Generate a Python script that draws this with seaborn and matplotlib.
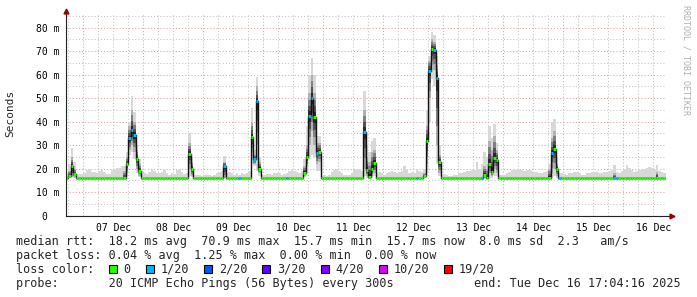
import numpy as np
import pandas as pd
import matplotlib
matplotlib.use("Agg")
import matplotlib.pyplot as plt
import matplotlib.dates as mdates
from matplotlib.ticker import MultipleLocator, NullFormatter, FuncFormatter
from matplotlib.patches import Rectangle
import seaborn as sns

# ---------------- data (hourly consolidated values, start 2025-12-06 17:00) ----------------
START = "2025-12-06 17:00"
VIEW_START = "2025-12-06 17:04:16"
VIEW_END = "2025-12-16 17:04:16"

median_ms = [
    16, 17, 21, 17.7, 16, 16, 16, 16, 16, 16, 16, 16, 16, 16, 16, 16, 16, 16, 16, 16, 16, 16, 16, 16,
    22, 33, 36.6, 34.3, 24.3, 19, 16, 16, 16, 16, 16, 16, 16, 16, 16, 16, 16, 16, 16, 16, 16, 16, 16, 16,
    16, 26.4, 20, 16, 16, 16, 16, 16, 16, 16, 16, 16, 16, 16, 16, 21, 16, 16, 16, 16, 16, 16, 16, 16,
    16, 16, 33.6, 24, 48.7, 20, 16, 16, 16, 16, 16, 16, 16, 16, 16, 16, 16, 16, 16, 16, 16, 16, 16, 18.3,
    24.8, 42.6, 50.2, 42, 26.8, 27.2, 16, 16, 16, 16, 16, 16, 16, 16, 16, 16, 16, 16, 16, 16, 16, 16, 16, 35.7,
    19.4, 16.6, 20, 22.6, 16, 16, 16, 16, 16, 16, 16, 16, 16, 16, 16, 16, 16, 16, 16, 16, 16, 16, 16, 17,
    31.9, 61.6, 70.9, 70.5, 58.7, 22.7, 16, 16, 16, 16, 16, 16, 16, 16, 16, 16, 16, 16, 16, 16, 16, 16, 16, 17.3,
    16.2, 21.9, 18.7, 24.7, 23.7, 16, 16, 16, 16, 16, 16, 16, 16, 16, 16, 16, 16, 16, 16, 16, 16, 16, 16, 16,
    16, 16, 26.5, 28.4, 19.9, 16, 16, 16, 16, 16, 16, 16, 16, 16, 16, 16, 16, 16, 16, 16, 16, 16, 16, 16,
    16, 16, 16, 16, 16, 16, 16, 16, 16, 16, 16, 16, 16, 16, 16, 16, 16, 16, 16, 16, 16, 16, 16, 16,
]

# lost pings (out of 20) per hour -> colour of the median mark
loss_pings = [
    0, 0, 0, 0, 0, 0, 0, 0, 0, 0, 0, 0, 0, 0, 0, 0, 0, 0, 0, 0, 0, 0, 0, 0,
    0, 1, 1, 1, 0, 0, 0, 0, 0, 0, 0, 0, 0, 0, 0, 0, 0, 0, 0, 0, 0, 0, 0, 0,
    0, 0, 0, 0, 0, 0, 0, 0, 0, 0, 0, 0, 0, 0, 0, 1, 0, 0, 0, 0, 0, 1, 0, 0,
    0, 0, 0, 1, 1, 0, 0, 0, 0, 0, 0, 0, 0, 0, 0, 0, 1, 0, 0, 0, 0, 0, 0, 0,
    0, 1, 1, 0, 1, 0, 0, 0, 0, 0, 0, 0, 0, 0, 0, 0, 0, 0, 0, 0, 0, 0, 0, 1,
    0, 0, 0, 0, 0, 0, 0, 0, 0, 0, 0, 0, 0, 0, 0, 0, 0, 0, 0, 0, 1, 0, 0, 0,
    0, 1, 0, 1, 1, 0, 0, 0, 0, 0, 0, 0, 0, 0, 0, 0, 0, 0, 0, 0, 0, 0, 1, 0,
    0, 0, 0, 0, 0, 0, 0, 0, 0, 0, 0, 0, 0, 0, 0, 0, 0, 0, 0, 0, 0, 0, 0, 0,
    0, 0, 1, 0, 0, 1, 0, 0, 0, 0, 0, 0, 0, 0, 0, 0, 0, 0, 0, 0, 0, 0, 0, 0,
    0, 0, 0, 1, 1, 0, 0, 0, 0, 0, 0, 0, 0, 0, 0, 0, 0, 0, 0, 0, 0, 0, 0, 0,
]

# slowest ping of each hour (top of the light smoke)
ping_max = [
    18, 22, 29, 23, 17.5, 17.8, 17.8, 18, 19.5, 19.8, 18.5, 18.5, 18, 19, 19.3, 18.5, 17.8, 17.8, 19.5, 20, 20.3, 20.5, 21, 21,
    27, 40, 51, 44, 30, 24, 19, 18, 17.8, 18.5, 20, 19, 18, 18.3, 18.5, 19.3, 18, 17.5, 18, 17.8, 19.3, 19.8, 18.5, 17.8,
    18, 35, 25, 17.5, 17.5, 17.3, 17, 17.5, 17.5, 17.3, 17, 17.5, 18, 18.5, 19, 25.4, 18, 18.5, 18, 17.5, 18, 17.5, 18, 17.8,
    18, 19, 46, 28, 59, 25, 17.5, 17.5, 17.8, 17.8, 17.5, 18, 18.3, 18, 17.5, 17.8, 18, 19, 19.3, 19, 18.5, 18, 19, 24,
    38, 60, 67, 60, 34, 34, 17, 17.3, 17, 17.5, 18.5, 19.5, 19.8, 19, 18, 17.5, 17.5, 17.3, 18, 19.5, 19.8, 19.8, 19, 53,
    30, 27, 32, 33, 18, 18.5, 18, 17.5, 18, 18.5, 19, 18.5, 18, 18.5, 19, 21, 20, 18, 18.5, 18, 19.5, 19, 18.5, 20,
    45, 68, 78, 77, 68, 30, 17.5, 17.8, 17.5, 17, 17, 17.3, 17.5, 18, 18.3, 18.5, 19, 19, 19.5, 19.5, 23, 20, 22, 27,
    25, 38, 33, 39, 31, 17.5, 17.5, 17.5, 18, 18.5, 19.3, 19.3, 19.5, 19.5, 19.5, 19, 19.3, 19.3, 19, 18.5, 18.5, 18, 18, 18.5,
    19, 22, 40, 41, 25, 18, 18, 17.8, 17.5, 18, 18.3, 18.5, 18.5, 18, 17.5, 17.5, 18, 18.3, 18.5, 18.8, 18.5, 18, 18.3, 18.5,
    18.8, 19, 19.5, 21.5, 18.5, 18, 19, 20, 21.5, 20.5, 19.5, 18.5, 19, 19.5, 20, 20, 20.5, 20.7, 20.5, 19.5, 21.5, 19, 18.5, 18,
]

# fastest ping of each hour (bottom of the light smoke)
ping_min = [
    15.7, 16, 16.5, 16, 15.7, 15.7, 15.7, 15.7, 15.7, 15.7, 15.7, 15.7, 15.7, 15.7, 15.7, 15.7, 15.7, 15.7, 15.7, 15.7, 15.7, 15.7, 15.7, 15.7,
    17, 26, 27, 24, 18, 16.5, 15.7, 15.7, 15.7, 15.7, 15.7, 15.7, 15.7, 15.7, 15.7, 15.7, 15.7, 15.7, 15.7, 15.7, 15.7, 15.7, 15.7, 15.7,
    15.7, 17, 16.5, 15.7, 15.7, 15.7, 15.7, 15.7, 15.7, 15.7, 15.7, 15.7, 15.7, 15.7, 15.7, 16, 15.7, 15.7, 15.7, 15.7, 15.7, 15.7, 15.7, 15.7,
    15.7, 15.7, 22, 21, 19, 17, 15.7, 15.7, 15.7, 15.7, 15.7, 15.7, 15.7, 15.7, 15.7, 15.7, 15.7, 15.7, 15.7, 15.7, 15.7, 15.7, 15.7, 16.5,
    18, 24, 26, 25, 19, 19, 15.7, 15.7, 15.7, 15.7, 15.7, 15.7, 15.7, 15.7, 15.7, 15.7, 15.7, 15.7, 15.7, 15.7, 15.7, 15.7, 15.7, 17,
    16, 16, 16.5, 17, 15.7, 15.7, 15.7, 15.7, 15.7, 15.7, 15.7, 15.7, 15.7, 15.7, 15.7, 15.7, 15.7, 15.7, 15.7, 15.7, 15.7, 15.7, 15.7, 16,
    18, 40, 58, 55, 22, 17, 15.7, 15.7, 15.7, 15.7, 15.7, 15.7, 15.7, 15.7, 15.7, 15.7, 15.7, 15.7, 15.7, 15.7, 15.7, 15.7, 15.7, 16,
    16, 16, 16, 17, 17, 15.7, 15.7, 15.7, 15.7, 15.7, 15.7, 15.7, 15.7, 15.7, 15.7, 15.7, 15.7, 15.7, 15.7, 15.7, 15.7, 15.7, 15.7, 15.7,
    15.7, 15.7, 16, 17, 16, 15.7, 15.7, 15.7, 15.7, 15.7, 15.7, 15.7, 15.7, 15.7, 15.7, 15.7, 15.7, 15.7, 15.7, 15.7, 15.7, 15.7, 15.7, 15.7,
    15.7, 15.7, 15.7, 15.7, 15.7, 15.7, 15.7, 15.7, 15.7, 15.7, 15.7, 15.7, 15.7, 15.7, 15.7, 15.7, 15.7, 15.7, 15.7, 15.7, 15.7, 15.7, 15.7, 15.7,
]

# extent of the dense (dark) part of the smoke
core_hi = [
    16, 19, 25, 20, 16, 16, 16, 16, 16, 16, 16, 16, 16, 16, 16, 16, 16, 16, 16, 16, 16, 16, 16, 19,
    25, 38, 45, 40, 28, 22, 16, 16, 16, 16, 16, 16, 16, 16, 16, 16, 16, 16, 16, 16, 16, 16, 16, 16,
    16, 31, 23, 16, 16, 16, 16, 16, 16, 16, 16, 16, 16, 16, 16, 23, 16, 16, 16, 16, 16, 16, 16, 16,
    16, 16, 40, 26, 55, 23, 16, 16, 16, 16, 16, 16, 16, 16, 16, 16, 16, 16, 16, 16, 16, 16, 16, 21,
    30, 52, 60, 52, 31, 31, 16, 16, 16, 16, 16, 16, 16, 16, 16, 16, 16, 16, 16, 16, 16, 16, 16, 45,
    25, 23, 27, 28, 16, 16, 16, 16, 16, 16, 16, 16, 16, 16, 16, 16, 16, 16, 16, 16, 16, 16, 16, 18,
    38, 66, 75, 74, 64, 26, 16, 16, 16, 16, 16, 16, 16, 16, 16, 16, 16, 16, 16, 16, 16, 16, 16, 21,
    20, 32, 28, 34, 28, 16, 16, 16, 16, 16, 16, 16, 16, 16, 16, 16, 16, 16, 16, 16, 16, 16, 16, 16,
    16, 20, 33, 36, 22, 16, 16, 16, 16, 16, 16, 16, 16, 16, 16, 16, 16, 16, 16, 16, 16, 16, 16, 16,
    16, 16, 16, 18, 16, 16, 16, 16, 16, 16, 16, 16, 16, 16, 16, 16, 16, 16, 16, 16, 18.5, 16, 16, 16,
]
core_lo = [
    16, 16.5, 17, 16.5, 16, 16, 16, 16, 16, 16, 16, 16, 16, 16, 16, 16, 16, 16, 16, 16, 16, 16, 16, 16,
    18, 28, 30, 27, 20, 17, 16, 16, 16, 16, 16, 16, 16, 16, 16, 16, 16, 16, 16, 16, 16, 16, 16, 16,
    16, 20, 17, 16, 16, 16, 16, 16, 16, 16, 16, 16, 16, 16, 16, 16, 16, 16, 16, 16, 16, 16, 16, 16,
    16, 16, 27, 22, 30, 18, 16, 16, 16, 16, 16, 16, 16, 16, 16, 16, 16, 16, 16, 16, 16, 16, 16, 17,
    21, 30, 36, 30, 22, 23, 16, 16, 16, 16, 16, 16, 16, 16, 16, 16, 16, 16, 16, 16, 16, 16, 16, 20,
    17, 16.3, 17, 18, 16, 16, 16, 16, 16, 16, 16, 16, 16, 16, 16, 16, 16, 16, 16, 16, 16, 16, 16, 16,
    22, 50, 64, 62, 30, 18, 16, 16, 16, 16, 16, 16, 16, 16, 16, 16, 16, 16, 16, 16, 16, 16, 16, 16,
    16, 18, 17, 20, 18, 16, 16, 16, 16, 16, 16, 16, 16, 16, 16, 16, 16, 16, 16, 16, 16, 16, 16, 16,
    16, 16, 18, 20, 17, 16, 16, 16, 16, 16, 16, 16, 16, 16, 16, 16, 16, 16, 16, 16, 16, 16, 16, 16,
    16, 16, 16, 16, 16, 16, 16, 16, 16, 16, 16, 16, 16, 16, 16, 16, 16, 16, 16, 16, 16, 16, 16, 16,
]

y_ticks = [0, 10, 20, 30, 40, 50, 60, 70, 80]
y_tick_labels = ["0  ", "10 m", "20 m", "30 m", "40 m", "50 m", "60 m", "70 m", "80 m"]

loss_levels = ["0", "1/20", "2/20", "3/20", "4/20", "10/20", "19/20"]
loss_level_pings = [0, 1, 2, 3, 4, 10, 19]
loss_level_colors = ["#26ff00", "#00b8ff", "#0059ff", "#5e00ff", "#7e00ff", "#dd00ff", "#ff0000"]

legend_lines = [
    "median rtt:  18.2 ms avg  70.9 ms max  15.7 ms min  15.7 ms now  8.0 ms sd  2.3   am/s",
    "packet loss: 0.04 % avg  1.25 % max  0.00 % min  0.00 % now",
]
probe_label = "probe:       20 ICMP Echo Pings (56 Bytes) every 300s"
end_label = "end: Tue Dec 16 17:04:16 2025"

# ---------------- figure ----------------
W, H = 697, 297
sns.set_style("white")
plt.rcParams["font.family"] = ["DejaVu Sans Mono", "DejaVu Sans"]
plt.rcParams["axes.unicode_minus"] = False

fig = plt.figure(figsize=(W / 100, H / 100), dpi=100, facecolor="white")
y_top = 86.0
px_per_ms = 2.35
ax_h = y_top * px_per_ms
ax = fig.add_axes([66 / W, (H - 215.7) / H, 600 / W, ax_h / H])
ax.set_facecolor("white")

n = len(median_ms)
edges = pd.date_range(START, periods=n + 1, freq="h")
edges_num = mdates.date2num(edges.to_pydatetime())

med = np.array(median_ms, dtype=float)
pmax = np.array(ping_max, dtype=float)
pmin = np.array(ping_min, dtype=float)
chi = np.array(core_hi, dtype=float)
clo = np.array(core_lo, dtype=float)

# light smoke: full ping range
ax.stairs(pmax, edges_num, baseline=pmin, fill=True, color="#d8d8d8", lw=0, zorder=1.2)
# dense smoke: darker towards the median
for f, c in zip([1.0, 0.72, 0.45, 0.2], ["#b0b0b0", "#808080", "#525252", "#282828"]):
    up = med + f * (chi - med)
    lo = med - f * (med - clo)
    ax.stairs(up, edges_num, baseline=lo, fill=True, color=c, lw=0, zorder=1.3)

# median as a black step line
df = pd.DataFrame({"t": edges_num, "rtt": np.append(med, med[-1])})
sns.lineplot(data=df, x="t", y="rtt", ax=ax, color="#111111", lw=1.0,
             drawstyle="steps-post", estimator=None, zorder=2)

# coloured median marks by packet loss
col_map = dict(zip(loss_level_pings, loss_level_colors))
mark_cols = [col_map[l] for l in loss_pings]
ax.hlines(med, edges_num[:-1], edges_num[1:], colors=mark_cols, lw=2.2,
          capstyle="butt", zorder=3)

# ---------------- axes ----------------
ax.set_xlim(mdates.date2num(pd.Timestamp(VIEW_START)), mdates.date2num(pd.Timestamp(VIEW_END)))
ax.set_ylim(0, y_top)
ax.set_xlabel("")
ax.set_ylabel("")

ax.xaxis.set_major_locator(mdates.HourLocator(byhour=0))
ax.xaxis.set_major_formatter(NullFormatter())
ax.xaxis.set_minor_locator(mdates.HourLocator(byhour=[6, 12, 18]))


def day_fmt(v, pos):
    d = mdates.num2date(v)
    return d.strftime("%d %b") if d.hour == 12 else ""


ax.xaxis.set_minor_formatter(FuncFormatter(day_fmt))
ax.set_yticks(y_ticks, y_tick_labels)
ax.yaxis.set_minor_locator(MultipleLocator(5))

ax.set_axisbelow(True)
ax.grid(which="major", color="#e5a0a0", ls=(0, (1, 2)), lw=0.75)
ax.grid(which="minor", color="#c4c4c4", ls=(0, (1, 2)), lw=0.75)

ax.tick_params(axis="x", which="both", length=2, width=0.6, direction="out",
               color="#333333", labelsize=7, pad=3.5, labelcolor="black")
ax.tick_params(axis="y", which="both", length=0, labelsize=7, pad=4.5, labelcolor="black")

for s in ["top", "right"]:
    ax.spines[s].set_visible(False)
for s in ["left", "bottom"]:
    ax.spines[s].set_color("#222222")
    ax.spines[s].set_linewidth(0.8)
    ax.spines[s].set_zorder(4)

# axis arrows
ax.plot([1.0, 1.0 + 7 / 600], [0, 0], transform=ax.transAxes, clip_on=False,
        color="#222222", lw=0.8, zorder=4)
ax.plot([1.0 + 6 / 600], [0], marker=">", ms=3.5, color="#990000", transform=ax.transAxes,
        clip_on=False, zorder=5, mec="#990000")
ax.plot([0, 0], [1.0, 1.0 + 3 / ax_h], transform=ax.transAxes, clip_on=False,
        color="#222222", lw=0.8, zorder=4)
ax.plot([0], [1.0 + 2.5 / ax_h], marker="^", ms=3.5, color="#990000", transform=ax.transAxes,
        clip_on=False, zorder=5, mec="#990000")

# ---------------- texts ----------------
def P(x, y):
    return x / W, 1 - y / H


fig.text(*P(10, 113), "Seconds", rotation=90, ha="center", va="center", fontsize=8)
fig.text(*P(686, 5), "RRDTOOL / TOBI OETIKER", rotation=270, ha="center", va="top",
         fontsize=6, color="#b0b0b0")

LEG = 8.5
base_y = [245.5, 259.5, 273, 287]
fig.text(*P(16, base_y[0]), legend_lines[0], fontsize=LEG, va="baseline", ha="left")
fig.text(*P(16, base_y[1]), legend_lines[1], fontsize=LEG, va="baseline", ha="left")
fig.text(*P(16, base_y[2]), "loss color:", fontsize=LEG, va="baseline", ha="left")

char_w = 7.08
bx = 109.0
for lab, colr in zip(loss_levels, loss_level_colors):
    fig.patches.append(Rectangle(P(bx, base_y[2]), 8 / W, 8 / H, transform=fig.transFigure,
                                 facecolor=colr, edgecolor="black", lw=0.8))
    tx = bx + 14.7
    fig.text(*P(tx, base_y[2]), lab, fontsize=LEG, va="baseline", ha="left")
    bx = tx + len(lab) * char_w + 15.2

fig.text(*P(16, base_y[3]), probe_label, fontsize=LEG, va="baseline", ha="left")
fig.text(*P(681, base_y[3]), end_label, fontsize=LEG, va="baseline", ha="right")

fig.savefig("out.png", dpi=100, facecolor="white")
